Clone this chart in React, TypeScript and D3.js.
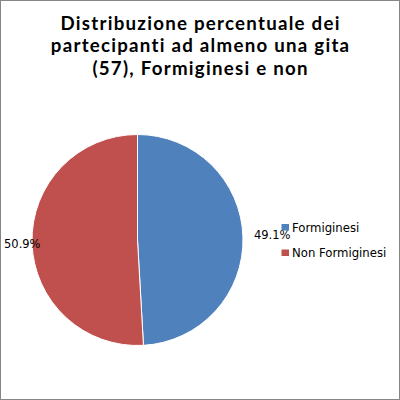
import { useEffect } from "react";
import * as d3 from "d3";

const titleLines = [
  "Distribuzione percentuale dei",
  "partecipanti ad almeno una gita",
  "(57), Formiginesi e non",
];
const categories = ["Formiginesi", "Non Formiginesi"];
const shares = [49.1, 50.9];
const colors = ["#4F81BD", "#C0504D"];

export default function App() {
  useEffect(() => {
    document.body.style.margin = "0";
  }, []);

  const width = 400;
  const height = 400;
  const cx = 137.5;
  const cy = 240;
  const radius = 105.5;

  const pie = d3
    .pie<number>()
    .sort(null)
    .value((d) => d);
  const arcs = pie(shares);
  const arc = d3.arc<d3.PieArcDatum<number>>().innerRadius(0).outerRadius(radius);

  // Excel pushes the left label inwards so it stays inside the chart
  const labelWidth = 37;
  const leftLimit = 4 - cx;

  return (
    <svg width={width} height={height} style={{ display: "block" }}>
      <rect x={0.5} y={0.5} width={width - 1} height={height - 1} fill="#fff" stroke="#868686" />
      {titleLines.map((line, i) => (
        <text
          key={i}
          x={200.6}
          y={29.5 + i * 22.5}
          textAnchor="middle"
          fontFamily="Lato, sans-serif"
          fontWeight="bold"
          fontSize={18.7}
          letterSpacing={1.25}
          fill="#000"
        >
          {line}
        </text>
      ))}
      <g transform={`translate(${cx},${cy})`}>
        {arcs.map((a, i) => (
          <path key={i} d={arc(a) ?? ""} fill={colors[i]} stroke="#fff" strokeWidth={1} />
        ))}
        {arcs.map((a, i) => {
          const mid = (a.startAngle + a.endAngle) / 2;
          const r = radius + 11;
          const right = Math.sin(mid) > 0;
          const x = right ? Math.sin(mid) * r : Math.max(Math.sin(mid) * r - labelWidth, leftLimit);
          const y = right ? -1 : 8;
          return (
            <text
              key={i}
              x={x}
              y={y}
              textAnchor="start"
              fontFamily="'DejaVu Sans', sans-serif"
              fontSize={11.5}
              fill="#000"
            >
              {d3.format(".1f")(a.data)}%
            </text>
          );
        })}
      </g>
      <g transform="translate(281.5,224)">
        {categories.map((c, i) => (
          <g key={c} transform={`translate(0,${i * 25.5})`}>
            <rect width={7.5} height={6.5} fill={colors[i]} />
            <text
              x={10.5}
              y={7.5}
              fontFamily="'DejaVu Sans', sans-serif"
              fontSize={11.7}
              fill="#000"
            >
              {c}
            </text>
          </g>
        ))}
      </g>
    </svg>
  );
}
